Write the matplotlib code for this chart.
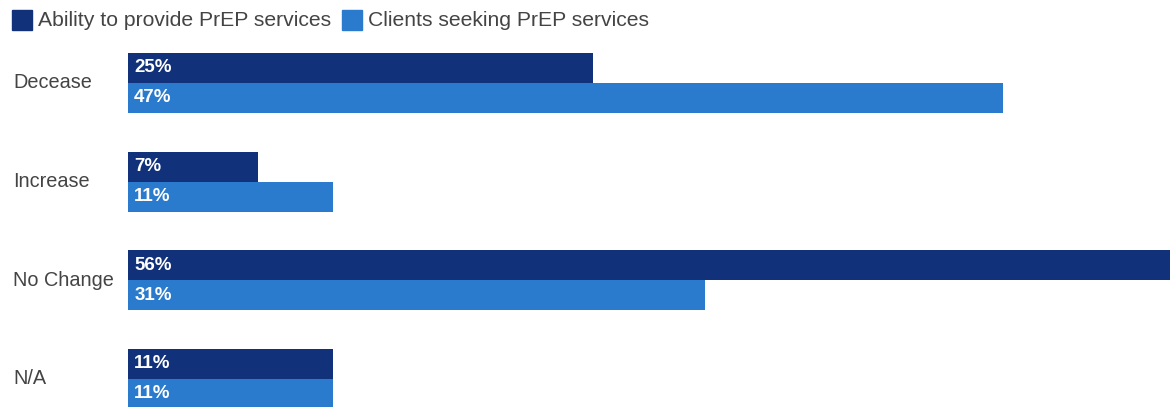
import matplotlib.pyplot as plt
from matplotlib.patches import Rectangle
from matplotlib.transforms import blended_transform_factory

# PrEP survey responses (percent)
categorias = ["Decease", "Increase", "No Change", "N/A"]
capacidade = [25, 7, 56, 11]   # Ability to provide PrEP services
procura = [47, 11, 31, 11]     # Clients seeking PrEP services
series = ["Ability to provide PrEP services", "Clients seeking PrEP services"]

escuro = "#11317a"
claro = "#2a7acd"
cinza = "#444444"

plt.rcParams["font.family"] = ["Liberation Sans", "DejaVu Sans"]

fig = plt.figure(figsize=(11.7, 4.07), dpi=100)
ax = fig.add_axes([128 / 1170, 0, 1 - 128 / 1170, 1])

altura = 0.304
pos = list(range(len(categorias)))
ax.barh([p - altura / 2 for p in pos], capacidade, height=altura, color=escuro)
ax.barh([p + altura / 2 for p in pos], procura, height=altura, color=claro)

ax.set_xlim(0, 56)
ax.set_ylim(3.284, -0.841)
ax.axis("off")

# valores dentro das barras
for p, a, b in zip(pos, capacidade, procura):
    ax.annotate(f"{a}%", (0, p - altura / 2), xytext=(4.5, 0), textcoords="offset points",
                va="center", ha="left", color="white", fontsize=13.5, fontweight="bold")
    ax.annotate(f"{b}%", (0, p + altura / 2), xytext=(4.5, 0), textcoords="offset points",
                va="center", ha="left", color="white", fontsize=13.5, fontweight="bold")

# nomes das categorias
trans = blended_transform_factory(fig.transFigure, ax.transData)
for p, nome in zip(pos, categorias):
    ax.text(13 / 1170, p, nome, transform=trans, ha="left", va="center",
            color=cinza, fontsize=14.3)

# legenda no topo
x0 = 12
for cor, texto in zip([escuro, claro], series):
    fig.patches.append(Rectangle((x0 / 1170, 1 - 30 / 407), 20 / 1170, 20 / 407,
                                 transform=fig.transFigure, color=cor))
    t = fig.text((x0 + 26) / 1170, 1 - 20 / 407, texto, ha="left", va="center",
                 color=cinza, fontsize=15.2)
    fig.canvas.draw()
    bb = t.get_window_extent()
    x0 = bb.x1 + 11

fig.savefig("out.png", dpi=100)
